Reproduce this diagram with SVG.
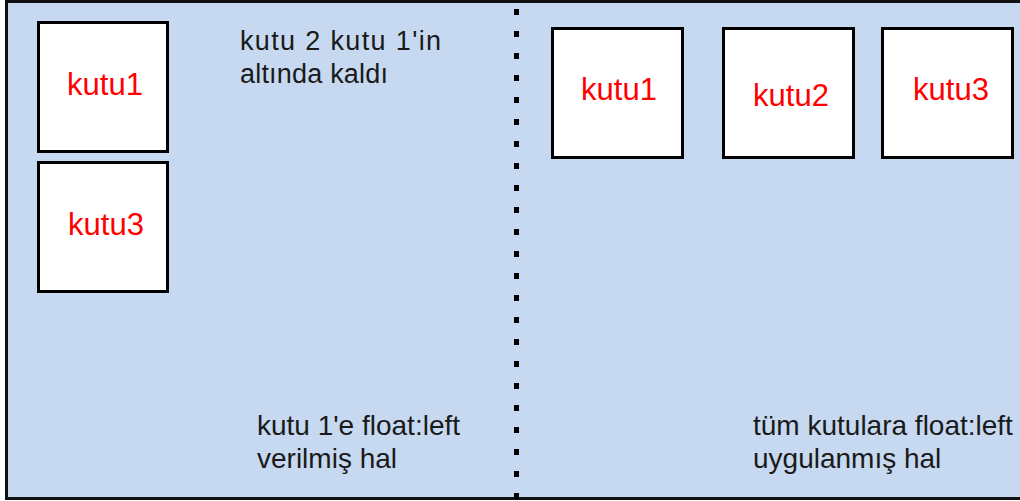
<svg xmlns="http://www.w3.org/2000/svg" width="1020" height="501" viewBox="0 0 1020 501">
<style>
.box{fill:#ffffff;stroke:#000000;stroke-width:3}
.lbl{font-family:"Liberation Sans",Arial,sans-serif;font-size:31px;fill:#ff0000;text-anchor:middle}
.note{font-family:"Liberation Sans",Arial,sans-serif;fill:#1a1a1a}
</style>
<rect x="6.5" y="1.5" width="1030" height="497" fill="#c6d9f0" stroke="#111111" stroke-width="3"/>
<g id="connectors">
<line x1="516.5" y1="9" x2="516.5" y2="501" stroke="#000000" stroke-width="5" stroke-dasharray="6 16"/>
</g>
<g id="left-kutu1"><rect class="box" x="38.5" y="22.5" width="129" height="129"/><text class="lbl" x="105" y="95">kutu1</text></g>
<g id="left-kutu3"><rect class="box" x="38.5" y="162.5" width="129" height="129"/><text class="lbl" x="106" y="235">kutu3</text></g>
<g id="right-kutu1"><rect class="box" x="552.5" y="28.5" width="130" height="129"/><text class="lbl" x="619" y="100">kutu1</text></g>
<g id="right-kutu2"><rect class="box" x="723.5" y="28.5" width="130" height="129"/><text class="lbl" x="791" y="106">kutu2</text></g>
<g id="right-kutu3"><rect class="box" x="882.5" y="28.5" width="130" height="129"/><text class="lbl" x="951" y="100">kutu3</text></g>
<g id="note-top">
<text class="note" font-size="27" x="240" y="50" textLength="201" lengthAdjust="spacing">kutu 2 kutu 1'in</text>
<text class="note" font-size="27" x="240" y="83" textLength="148" lengthAdjust="spacing">altında kaldı</text>
</g>
<g id="note-left">
<text class="note" font-size="28" x="257" y="435">kutu 1'e float:left</text>
<text class="note" font-size="28" x="257" y="468">verilmiş hal</text>
</g>
<g id="note-right">
<text class="note" font-size="28" x="753" y="435">tüm kutulara float:left</text>
<text class="note" font-size="28" x="753" y="468">uygulanmış hal</text>
</g>
</svg>
